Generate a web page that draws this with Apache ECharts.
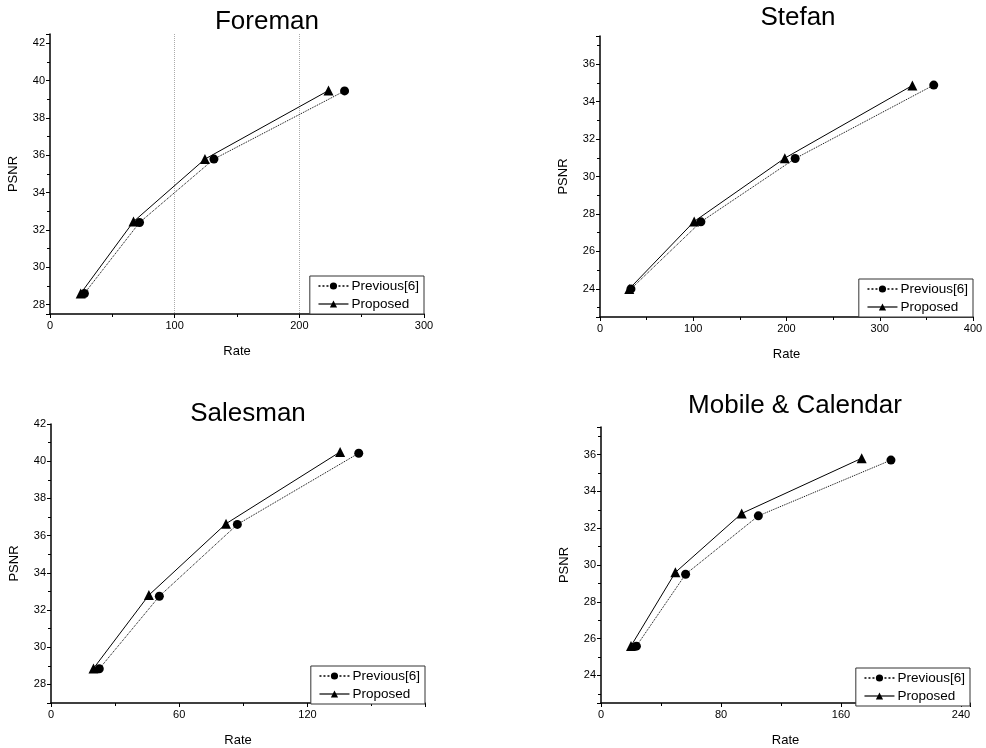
<!DOCTYPE html>
<html>
<head>
<meta charset="utf-8">
<script src="https://cdn.jsdelivr.net/npm/echarts@6/dist/echarts.min.js"></script>
<style>
html,body{margin:0;padding:0;background:#fff;}
#main{width:986px;height:748px;}
</style>
</head>
<body>
<div id="main"></div>
<script>
// ---- Data ----
const titles = ['Foreman', 'Stefan', 'Salesman', 'Mobile & Calendar'];
const seriesNames = ['Previous[6]', 'Proposed'];

const foremanPrevRate = [27.6, 71.8, 131.5, 236.3];
const foremanPrevPSNR = [28.6, 32.4, 35.8, 39.45];
const foremanPropRate = [24.6, 67.0, 124.3, 223.4];
const foremanPropPSNR = [28.6, 32.45, 35.8, 39.47];

const stefanPrevRate = [33.2, 108.2, 209.3, 357.9];
const stefanPrevPSNR = [24.0, 27.58, 30.96, 34.88];
const stefanPropRate = [31.4, 101.0, 198.2, 335.0];
const stefanPropPSNR = [24.0, 27.6, 30.98, 34.86];

const salesmanPrevRate = [22.6, 50.7, 87.2, 144.0];
const salesmanPrevPSNR = [28.84, 32.74, 36.6, 40.43];
const salesmanPropRate = [19.9, 45.8, 81.9, 135.3];
const salesmanPropPSNR = [28.86, 32.8, 36.64, 40.5];

const mobilePrevRate = [23.6, 56.4, 104.9, 193.3];
const mobilePrevPSNR = [25.59, 29.5, 32.67, 35.7];
const mobilePropRate = [20.0, 49.6, 93.8, 173.8];
const mobilePropPSNR = [25.6, 29.6, 32.8, 35.8];

// axis ranges / tick steps
const xMins = [0, 0, 0, 0];
const xMaxs = [300, 400, 175, 246];
const xSteps = [100, 100, 60, 80];
const yMins = [27.5, 22.5, 27, 22.5];
const yMaxs = [42.5, 37.5, 42, 37.5];

const panels = [
  [foremanPrevRate, foremanPrevPSNR, foremanPropRate, foremanPropPSNR],
  [stefanPrevRate, stefanPrevPSNR, stefanPropRate, stefanPropPSNR],
  [salesmanPrevRate, salesmanPrevPSNR, salesmanPropRate, salesmanPropPSNR],
  [mobilePrevRate, mobilePrevPSNR, mobilePropRate, mobilePropPSNR]
];

// ---- Layout ----
const FONT = '"Liberation Sans", Arial, sans-serif';
const gridBoxes = [
  {left: 50, top: 34, width: 374, height: 280},
  {left: 600, top: 36, width: 373, height: 281},
  {left: 51, top: 424, width: 374, height: 280},
  {left: 601, top: 427, width: 369, height: 279}
];
const titlePos = [
  {x: 262, y: 4}, {x: 793, y: 0}, {x: 243, y: 396}, {x: 790, y: 388}
];

const option = {
  backgroundColor: '#fff',
  animation: false,
  textStyle: {fontFamily: FONT},
  title: [], grid: [], xAxis: [], yAxis: [], series: [], legend: []
};

const pair = (xs, ys) => xs.map((x, i) => [x, ys[i]]);

panels.forEach((p, i) => {
  const g = gridBoxes[i];
  option.title.push({
    text: titles[i], left: titlePos[i].x, top: titlePos[i].y, textAlign: 'center',
    textStyle: {fontFamily: FONT, fontSize: 26, fontWeight: 'normal', color: '#000'}
  });
  option.grid.push({left: g.left, top: g.top, width: g.width, height: g.height, containLabel: false});
  option.xAxis.push({
    gridIndex: i, type: 'value', min: xMins[i], max: xMaxs[i], interval: xSteps[i],
    name: 'Rate', nameLocation: 'middle', nameGap: 31,
    nameTextStyle: {fontFamily: FONT, fontSize: 13, color: '#000'},
    axisLine: {show: true, onZero: false, lineStyle: {color: '#000', width: 1.5}},
    axisTick: {show: true, inside: false, length: 4, lineStyle: {color: '#000'}},
    minorTick: {show: true, splitNumber: 2, length: 3, lineStyle: {color: '#000'}},
    axisLabel: {fontFamily: FONT, fontSize: 11, color: '#000', margin: 6,
      showMaxLabel: (xMaxs[i] % xSteps[i] === 0),
      formatter: v => (v % xSteps[i] === 0 ? String(v) : '')},
    splitLine: i === 0 ? {show: true, showMinLine: false, showMaxLine: false,
      lineStyle: {color: '#aaa', type: 'dotted', width: 1}} : {show: false}
  });
  option.yAxis.push({
    gridIndex: i, type: 'value', min: yMins[i], max: yMaxs[i], splitNumber: 7,
    name: 'PSNR', nameLocation: 'middle', nameGap: 30,
    nameTextStyle: {fontFamily: FONT, fontSize: 13, color: '#000'},
    axisLine: {show: true, onZero: false, lineStyle: {color: '#000', width: 1.5}},
    axisTick: {show: true, inside: false, length: 4, lineStyle: {color: '#000'}},
    minorTick: {show: true, splitNumber: 2, length: 3, lineStyle: {color: '#000'}},
    axisLabel: {fontFamily: FONT, fontSize: 11, color: '#000', margin: 5,
      formatter: v => (Math.abs(v % 2) < 1e-9 ? String(v) : '')},
    splitLine: {show: false}
  });
  option.series.push({
    name: seriesNames[0], type: 'line', xAxisIndex: i, yAxisIndex: i,
    data: pair(p[0], p[1]), symbol: 'circle', symbolSize: 9,
    itemStyle: {color: '#000'},
    lineStyle: {color: '#000', width: 1, type: 'dotted'}
  });
  option.series.push({
    name: seriesNames[1], type: 'line', xAxisIndex: i, yAxisIndex: i,
    data: pair(p[2], p[3]), symbol: 'triangle', symbolSize: 10,
    itemStyle: {color: '#000'},
    lineStyle: {color: '#000', width: 1, type: 'solid'}
  });
  option.legend.push({
    data: [
      {name: seriesNames[0], lineStyle: {color: '#000', width: 1.3, type: [2, 2]}},
      {name: seriesNames[1], lineStyle: {color: '#000', width: 1.2, type: 'solid'}}
    ],
    orient: 'vertical',
    right: 986 - (g.left + g.width), bottom: 748 - (g.top + g.height),
    backgroundColor: '#fff', borderColor: '#333', borderWidth: 1,
    padding: [3, 5, 3, 8], itemGap: 4, itemWidth: 30, itemHeight: 9,
    selectedMode: false,
    textStyle: {fontFamily: FONT, fontSize: 13.5, color: '#000', padding: [0, 0, 0, -2]}
  });
});

const chart = echarts.init(document.getElementById('main'), null, {renderer: 'canvas'});
chart.setOption(option);
</script>
</body>
</html>
